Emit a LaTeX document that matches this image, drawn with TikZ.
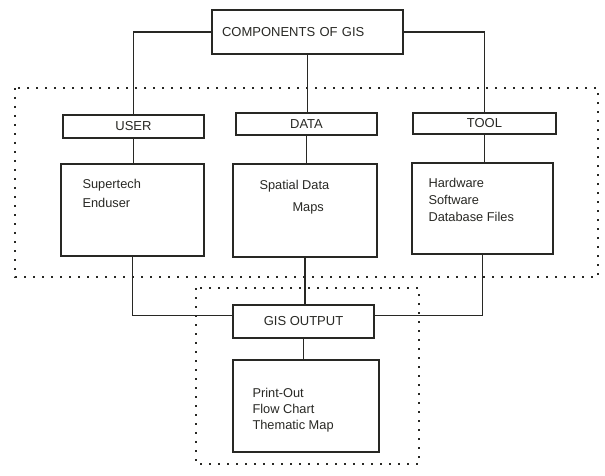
\documentclass[tikz,border=0pt]{standalone}
\usepackage{fontspec}
\setmainfont{Liberation Sans}
\usetikzlibrary{positioning}
\definecolor{ink}{RGB}{40,40,36}
\begin{document}
\begin{tikzpicture}[x=1pt,y=-1pt,
  box/.style={draw=ink, line width=1.3pt, rectangle, inner sep=0pt, text=ink, font=\fontsize{13}{15}\selectfont},
  conn/.style={draw=ink, line width=1.3pt},
  dotframe/.style={draw=ink, line width=1.6pt, dash pattern=on 1.8pt off 7.2pt},
  listtext/.style={inner sep=0pt, align=left, text=ink, font=\fontsize{12.8}{#1}\selectfont}]
\useasboundingbox (0,0) rectangle (605,476);

%Dotted frames
\draw[dotframe] (15,88) rectangle (598,277);
\draw[dotframe] (196,288) rectangle (419,464);

%Top box
\node[box, minimum width=191pt, minimum height=44pt, inner xsep=10pt, text width=171pt, align=left] (comp) at (307.5,32) {COMPONENTS OF GIS};

%Components
\node[box, minimum width=141pt, minimum height=23pt] (user) at (133.5,126.5) {USER};
\node[box, minimum width=141pt, minimum height=22pt] (data) at (306.5,124) {DATA};
\node[box, minimum width=143pt, minimum height=21pt] (tool) at (484.5,123.5) {TOOL};

%Lists
\node[box, minimum width=143pt, minimum height=92pt] (userlist) at (132.5,210) {};
\node[box, minimum width=144pt, minimum height=93pt] (datalist) at (305,210.5) {};
\node[box, minimum width=141pt, minimum height=91pt] (toollist) at (482.5,208.5) {};
\node[listtext=19pt, below right=15.5pt and 22pt of userlist.north west] (usertext) {Supertech\\Enduser};
\node[listtext=22pt, below right=16.5pt and 27pt of datalist.north west] (datatext) {Spatial Data\\\hspace*{33pt}Maps};
\node[listtext=17pt, below right=15.5pt and 17pt of toollist.north west] (tooltext) {Hardware\\Software\\Database Files};

%Output
\node[box, minimum width=141pt, minimum height=33pt] (out) at (303.5,321.5) {GIS OUTPUT};
\node[box, minimum width=146pt, minimum height=92pt] (outlist) at (306,406) {};
\node[listtext=16pt, below right=28.5pt and 20pt of outlist.north west] (outtext) {Print-Out\\Flow Chart\\Thematic Map};

%Connectors
\draw[conn] (comp.west) -| (user.north);
\draw[conn] (comp.east) -| (tool.north);
\draw[conn] (comp.south) -- (comp.south |- data.north);
\draw[conn] (user.south) -- (user.south |- userlist.north);
\draw[conn] (data.south) -- (data.south |- datalist.north);
\draw[conn] (tool.south) -- (tool.south |- toollist.north);
\draw[conn] (userlist.south) |- ([yshift=6pt]out.west);
\draw[conn] (toollist.south) |- ([yshift=6pt]out.east);
\draw[conn] (datalist.south) -- (datalist.south |- out.north);
\draw[conn] (out.south) -- (out.south |- outlist.north);
\end{tikzpicture}
\end{document}
